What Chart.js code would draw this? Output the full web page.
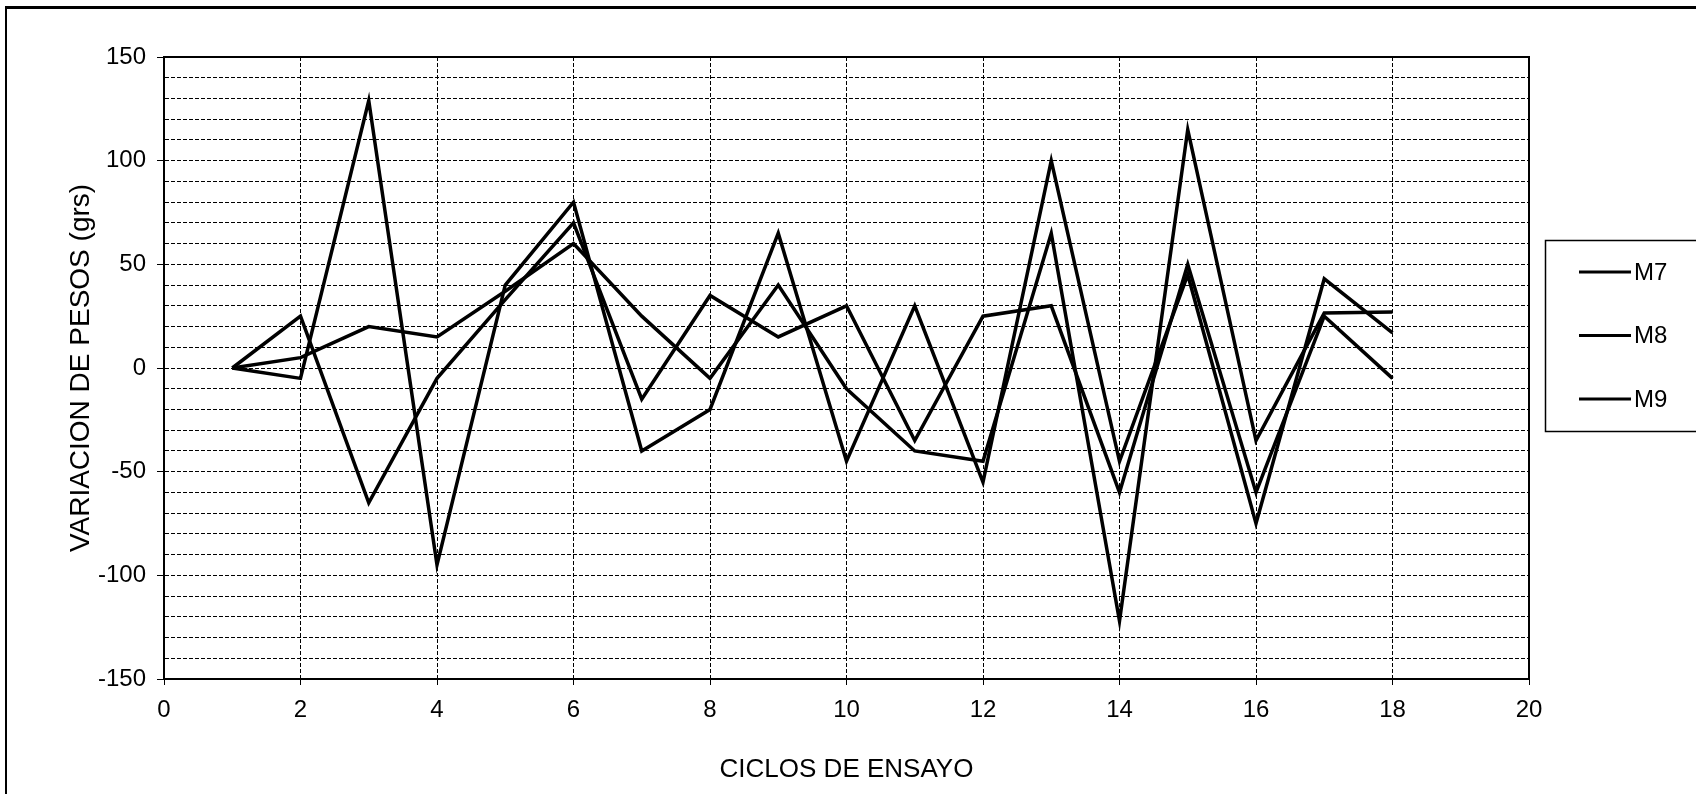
<!DOCTYPE html>
<html>
<head>
<meta charset="utf-8">
<title>Variación de pesos por ciclo de ensayo</title>
<script src="https://cdn.jsdelivr.net/npm/chart.js@4.4.1/dist/chart.umd.min.js"></script>
<style>
  html, body { margin: 0; padding: 0; background: #fff; }
  canvas { display: block; }
</style>
</head>
<body>
<canvas id="chart" width="1696" height="794"></canvas>
<script>
// Test cycles (x) and weight change per cycle, in grams, for each sample
const cycles = [1, 2, 3, 4, 5, 6, 7, 8, 9, 10, 11, 12, 13, 14, 15, 16, 17, 18];
const seriesNames = ['M7', 'M8', 'M9'];
const m7 = [0, 25, -65, -5, 33, 70, -15, 35, 15, 30, -35, 25, 30, -60, 50, -60, 25, -5];
const m8 = [0, -5, 129, -95, 40, 80, -40, -20, 65, -45, 30, -55, 100, -45, 45, -75, 43, 17];
const m9 = [0, 5, 20, 15, 37, 60, 25, -5, 40, -10, -40, -45, 65, -122, 115, -35, 26.5, 27];

// Axis ranges and labelled steps
const xRange = [0, 20];
const xStep = 2;
const yRange = [-150, 150];
const yGridStep = 10;
const yLabelStep = 50;

const FONT = '"Liberation Sans", Arial, Helvetica, sans-serif';
const INK = '#000';

const toPoints = vals => cycles.map((c, i) => ({ x: c, y: vals[i] }));

// Outer frame of the figure (top and left rules)
const framePlugin = {
  id: 'frame',
  beforeDraw(chart) {
    const ctx = chart.ctx;
    ctx.save();
    ctx.fillStyle = '#fff';
    ctx.fillRect(0, 0, chart.width, chart.height);
    ctx.fillStyle = INK;
    ctx.fillRect(5, 6, chart.width - 5, 3);
    ctx.fillRect(5, 6, 2, chart.height - 6);
    ctx.restore();
  }
};

// Solid border around the plot area
const plotBorderPlugin = {
  id: 'plotBorder',
  afterDraw(chart) {
    const { ctx, chartArea: a } = chart;
    ctx.save();
    ctx.strokeStyle = INK;
    ctx.lineWidth = 2;
    ctx.strokeRect(a.left, a.top, a.right - a.left, a.bottom - a.top);
    ctx.restore();
  }
};

// Boxed legend on the right, built from the datasets
const boxLegendPlugin = {
  id: 'boxLegend',
  afterDraw(chart) {
    const ctx = chart.ctx;
    const boxLeft = 1545, boxTop = 240, boxBottom = 431;
    const firstRow = 272, rowGap = 63.5;
    ctx.save();
    ctx.strokeStyle = INK;
    ctx.lineWidth = 1.5;
    ctx.strokeRect(boxLeft + 0.5, boxTop + 0.5, chart.width - boxLeft + 20, boxBottom - boxTop);
    ctx.font = '24px ' + FONT;
    ctx.textBaseline = 'middle';
    ctx.textAlign = 'left';
    chart.data.datasets.forEach((ds, i) => {
      const y = firstRow + i * rowGap;
      ctx.strokeStyle = ds.borderColor;
      ctx.lineWidth = 3;
      ctx.beginPath();
      ctx.moveTo(1579, y);
      ctx.lineTo(1631, y);
      ctx.stroke();
      ctx.fillStyle = INK;
      ctx.fillText(ds.label, 1634, y + 1);
    });
    ctx.restore();
  }
};

const makeDataset = (label, vals) => ({
  label,
  data: toPoints(vals),
  borderColor: INK,
  backgroundColor: INK,
  borderWidth: 3.5,
  borderJoinStyle: 'miter',
  borderCapStyle: 'butt',
  pointRadius: 0,
  tension: 0,
  fill: false
});

new Chart(document.getElementById('chart'), {
  type: 'line',
  data: {
    datasets: [
      makeDataset(seriesNames[0], m7),
      makeDataset(seriesNames[1], m8),
      makeDataset(seriesNames[2], m9)
    ]
  },
  options: {
    responsive: false,
    animation: false,
    devicePixelRatio: 1,
    layout: { padding: { top: 57, right: 167, bottom: 0, left: 0 } },
    plugins: {
      legend: { display: false },
      tooltip: { enabled: false }
    },
    scales: {
      x: {
        type: 'linear',
        min: xRange[0],
        max: xRange[1],
        afterFit: s => { s.height = 115; },
        ticks: {
          stepSize: xStep,
          autoSkip: false,
          maxRotation: 0,
          padding: 11,
          color: INK,
          font: { family: FONT, size: 24 }
        },
        grid: { color: INK, lineWidth: 1, tickLength: 6, tickColor: INK },
        border: { display: true, color: INK, width: 2, dash: [4, 2] },
        title: {
          display: true,
          text: 'CICLOS DE ENSAYO',
          color: INK,
          font: { family: FONT, size: 26 },
          padding: { top: 0, bottom: 9 }
        }
      },
      y: {
        type: 'linear',
        min: yRange[0],
        max: yRange[1],
        afterFit: s => { s.width = 164; },
        ticks: {
          stepSize: yGridStep,
          autoSkip: false,
          padding: 11,
          color: INK,
          font: { family: FONT, size: 24 },
          callback: v => (v % yLabelStep === 0 ? String(v) : '')
        },
        grid: {
          color: INK,
          lineWidth: 1,
          tickLength: 7,
          tickColor: c => (c.tick && c.tick.value % yLabelStep === 0 ? INK : 'rgba(0,0,0,0)')
        },
        border: { display: true, color: INK, width: 2, dash: [4, 2] },
        title: {
          display: true,
          text: 'VARIACION DE PESOS (grs)',
          color: INK,
          font: { family: FONT, size: 28 },
          padding: { top: 64, bottom: 0 }
        }
      }
    }
  },
  plugins: [framePlugin, plotBorderPlugin, boxLegendPlugin]
});
</script>
</body>
</html>
